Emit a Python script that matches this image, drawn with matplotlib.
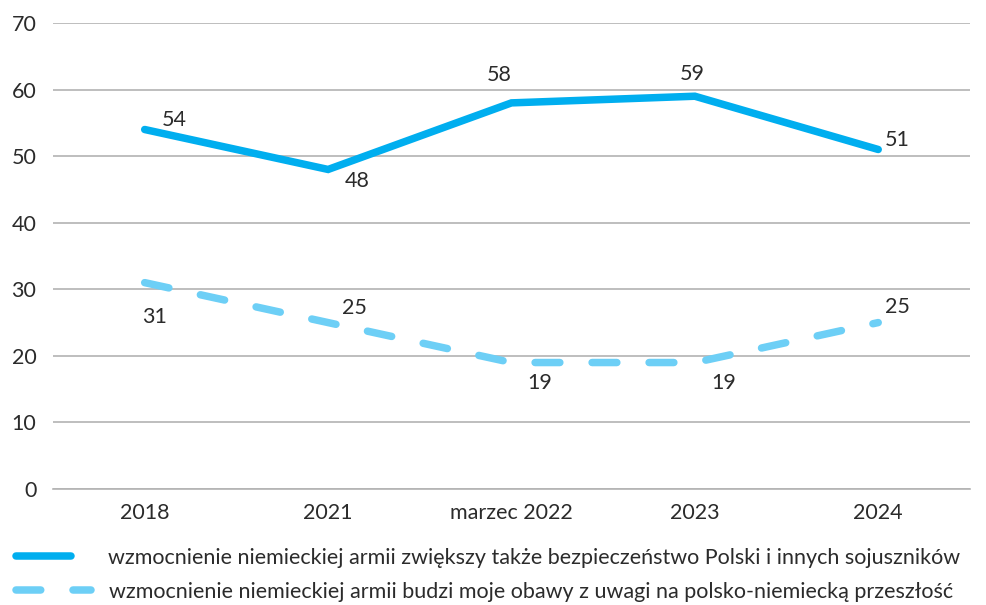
import matplotlib
matplotlib.use("Agg")
import matplotlib.pyplot as plt

categories = ["2018", "2021", "marzec 2022", "2023", "2024"]
security = [54, 48, 58, 59, 51]
concern = [31, 25, 19, 19, 25]
security_label = "wzmocnienie niemieckiej armii zwiększy także bezpieczeństwo Polski i innych sojuszników"
concern_label = "wzmocnienie niemieckiej armii budzi moje obawy z uwagi na polsko-niemiecką przeszłość"
yticks = [0, 10, 20, 30, 40, 50, 60, 70]

# value label offsets in points (dx, dy) from each point
security_off = [(21.6, 6.5), (20.9, -8), (-8.6, 20), (-2, 16), (13.7, 6.5)]
concern_off = [(7.2, -25), (18.7, 10.8), (20, -15), (21, -15), (13.7, 11.5)]

plt.rcParams['font.family'] = ['Lato', 'DejaVu Sans']
text_col = "#2b2b2b"
c_solid = "#00AEEF"
c_dash = "#6DCFF6"
fs = 15.5
lw = 5.4

fig = plt.figure(figsize=(9.87, 6.05), dpi=100)
ax = fig.add_axes([0.0537, 0.1917, 0.929, 0.7703])

x = list(range(len(categories)))
l1, = ax.plot(x, security, color=c_solid, lw=lw, solid_capstyle="round",
              solid_joinstyle="miter", label=security_label)
l2, = ax.plot(x, concern, color=c_dash, lw=lw, dash_capstyle="round",
              label=concern_label)
l2.set_dashes((3.3, 4.3))

for xi, v, off in zip(x, security, security_off):
    ax.annotate(str(v), (xi, v), xytext=off, textcoords="offset points",
                fontsize=fs, color=text_col, ha="center", va="center")
for xi, v, off in zip(x, concern, concern_off):
    ax.annotate(str(v), (xi, v), xytext=off, textcoords="offset points",
                fontsize=fs, color=text_col, ha="center", va="center")

ax.set_xlim(-0.5, 4.5)
ax.set_ylim(0, 70)
ax.set_yticks(yticks)
ax.set_xticks(x)
ax.set_xticklabels(categories)
ax.grid(axis="y", color="#b3b3b3", lw=1.2)
ax.set_axisbelow(True)
for s in ["top", "right", "left"]:
    ax.spines[s].set_visible(False)
ax.spines["bottom"].set_color("#b3b3b3")
ax.spines["bottom"].set_linewidth(1.2)
ax.tick_params(axis="both", length=0, labelsize=fs, labelcolor=text_col)
ax.tick_params(axis="x", pad=10)
ax.tick_params(axis="y", pad=12)

# two legends so each sample can have its own length
leg1 = fig.legend(handles=[l1], loc="center left", bbox_to_anchor=(0.016, 0.078),
                  frameon=False, fontsize=fs, labelcolor=text_col, handlelength=2.55,
                  handletextpad=1.75, borderpad=0, borderaxespad=0)
leg2 = fig.legend(handles=[l2], loc="center left", bbox_to_anchor=(0.016, 0.022),
                  frameon=False, fontsize=fs, labelcolor=text_col, handlelength=3.5,
                  handletextpad=0.85, borderpad=0, borderaxespad=0)

fig.savefig("out.png", dpi=100)
